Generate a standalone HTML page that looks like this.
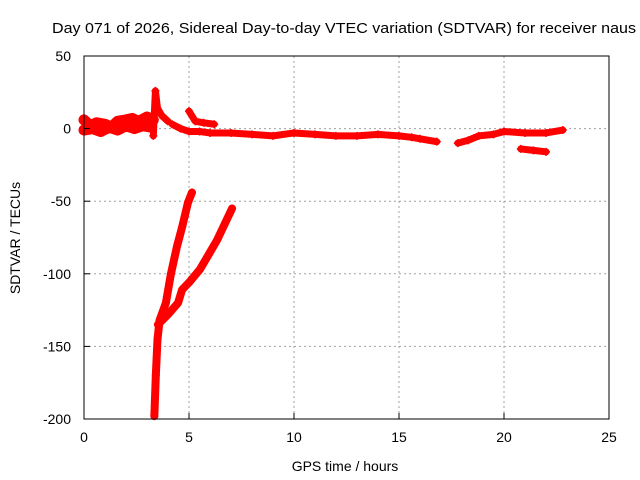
<!DOCTYPE html>
<html><head><meta charset="utf-8"><style>
body{margin:0;background:#fff}
svg{display:block;font-family:"Liberation Sans",sans-serif}
</style></head><body>
<svg id="c" width="640" height="480">
<text x="52" y="33" font-size="15" textLength="584" lengthAdjust="spacingAndGlyphs">Day 071 of 2026, Sidereal Day-to-day VTEC variation (SDTVAR) for receiver naus</text>
<text x="345" y="471" font-size="14" text-anchor="middle">GPS time / hours</text>
<text transform="translate(20,238) rotate(-90)" font-size="14" text-anchor="middle">SDTVAR / TECUs</text>
<g id="grid"></g><g id="marks"></g>
<rect x="84" y="56" width="525" height="363" fill="none" stroke="#000"/>
<g id="ticks"></g>
</svg>
<script>
const xTicks=[0,5,10,15,20,25];
const yTicks=[50,0,-50,-100,-150,-200];
const seriesX=[
 [0,0.3,0.6,1,1.3,1.6,2,2.3,2.6,3,3.3],
 [0,0.4,0.8,1.2,1.6,2,2.4,2.8,3.2],
 [3.3,3.4,3.5,3.7,4.0],
 [4.2,4.6,5,5.5,6,7,8,9,10,11,12,13,14,15,15.6,16,16.8],
 [5,5.3,5.7,6.2],
 [17.8,18.3,18.8,19.5,20,21,22,22.8],
 [20.8,21.4,22],
 [3.35,3.42,3.5,3.6,3.9,4.14,4.43,4.67,4.95,5.14],
 [3.52,4,4.48,4.67,5,5.52,6.33,7.05]
];
const seriesY=[
 [6,2,4,3,1,5,6,7,5,8,6],
 [-1,0,-2,1,-1,2,0,2,1],
 [-5,26,14,9,5],
 [3,0,-2,-2,-3,-3,-4,-5,-3,-4,-5,-5,-4,-5,-6,-7,-9],
 [12,5,4,3],
 [-10,-8,-5,-4,-2,-3,-3,-1],
 [-14,-15,-16],
 [-198,-170,-145,-132,-120,-100,-81,-68,-51,-44],
 [-135,-128,-120,-111,-106,-97,-77,-55]
];
const sx=v=>84+v*21, sy=v=>128.6-v*1.452;
const NS="http://www.w3.org/2000/svg";
const grid=document.getElementById('grid'),ticks=document.getElementById('ticks'),marks=document.getElementById('marks');
function mk(p,t,a){const e=document.createElementNS(NS,t);for(const k in a)e.setAttribute(k,a[k]);p.appendChild(e);return e;}
xTicks.forEach(t=>{const x=sx(t);
 if(t>0&&t<25){const g=mk(grid,'line',{x1:x,y1:56,x2:x,y2:419,stroke:'#a0a0a0','stroke-dasharray':'2,3'});
 
 }
 const l=mk(ticks,'line',{x1:x,y1:419,x2:x,y2:413,stroke:'#000'});
 
 
 const tx=mk(ticks,'text',{x:x,y:442,'font-size':14,'text-anchor':'middle'});tx.textContent=t;
 
 });
yTicks.forEach(t=>{const y=sy(t);
 if(t<50&&t>-200){const g=mk(grid,'line',{x1:84,y1:y,x2:609,y2:y,stroke:'#a0a0a0','stroke-dasharray':'2,3'});
 
 }
 const l=mk(ticks,'line',{x1:84,y1:y,x2:90,y2:y,stroke:'#000'});
 
 
 const tx=mk(ticks,'text',{x:71,y:y+5,'font-size':14,'text-anchor':'end'});tx.textContent=t;
 
 });
seriesX.forEach((xs,i)=>{const ys=seriesY[i];
 const pts=xs.map((x,j)=>sx(x)+','+sy(ys[j])).join(' ');
 const w=(i<2)?11:(i>=7?8:7);
 const p=mk(marks,'polyline',{points:pts,fill:'none',stroke:'#ff0000','stroke-width':w,'stroke-linejoin':'round','stroke-linecap':'round'});
 
 
 xs.forEach((x,j)=>{const cx=sx(x),cy=sy(ys[j]);
  const m=mk(marks,'path',{d:`M${cx-4},${cy}h8M${cx},${cy-4}v8`,stroke:'#ff0000','stroke-width':1.5});
  
  });
});
</script>
</body></html>
